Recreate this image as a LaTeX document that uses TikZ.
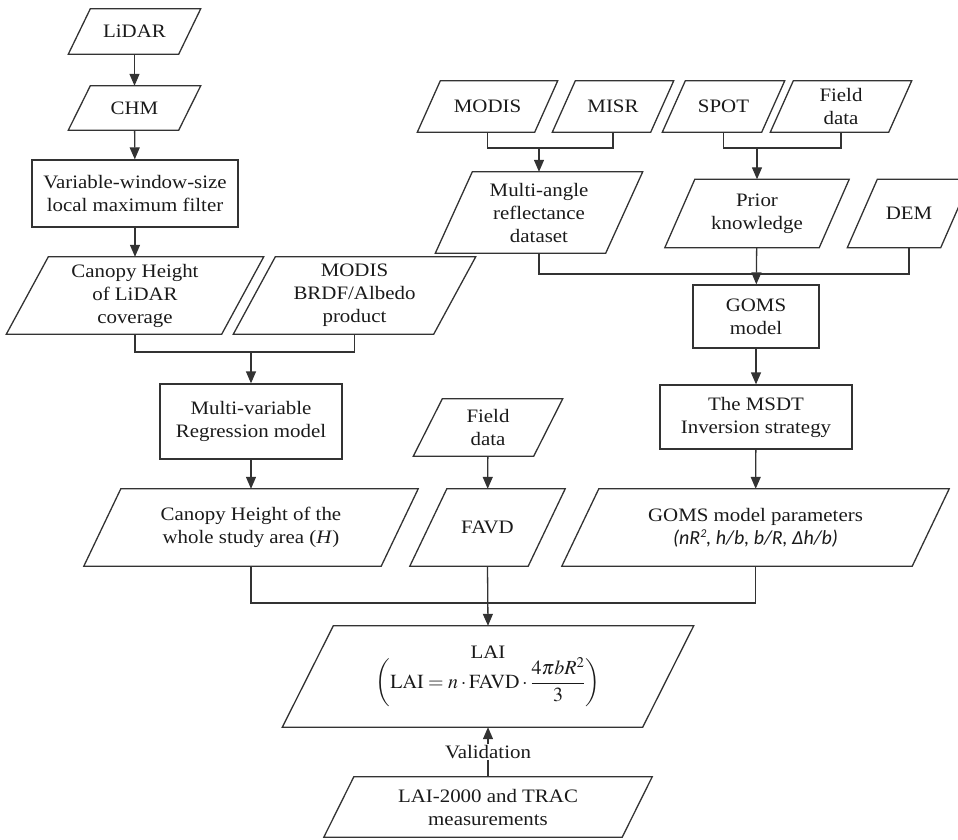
\documentclass[tikz,border=0pt]{standalone}
\usepackage{mathptmx}
\usepackage{fontspec}
\setmainfont{Liberation Serif}[FakeStretch=1.1]
\newfontfamily\calib{Carlito}
\usetikzlibrary{arrows.meta,calc}
\definecolor{ln}{HTML}{333333}
\definecolor{tx}{HTML}{1A1A1A}
\newcommand\pgram[2]{\draw[ln,line width=1.3pt] ([xshift=-#2/2]#1.south west) -- ([xshift=#2/2]#1.north west) -- ([xshift=#2/2]#1.north east) -- ([xshift=-#2/2]#1.south east) -- cycle;}
\begin{document}
\begin{tikzpicture}[x=1pt,y=-1pt,
  every node/.style={text=tx,font=\fontsize{19}{23}\selectfont,align=center,inner sep=0pt},
  io/.style={rectangle},
  procbox/.style={rectangle,draw=ln,line width=1.3pt},
  conn/.style={ln,line width=1.3pt},
  arr/.style={conn,-{Triangle[length=12pt,width=10pt]}}]
\useasboundingbox (0,0) rectangle (958,839);
% left column
\node[io,minimum width=110pt,minimum height=45pt] (lidar) at (134.5,31.5) {LiDAR};
\node[io,minimum width=110pt,minimum height=44pt] (chm) at (134.5,108) {CHM};
\node[procbox,minimum width=206pt,minimum height=67pt] (vw) at (135,193.5) {Variable-window-size\\local maximum filter};
\node[io,minimum width=215pt,minimum height=77pt] (ch1) at (135,295.5) {Canopy Height\\of LiDAR\\coverage};
\node[io,minimum width=200pt,minimum height=77pt] (brdf) at (354.5,295.5) {MODIS\\BRDF/Albedo\\product};
\node[procbox,minimum width=182pt,minimum height=75pt] (reg) at (251,421.5) {Multi-variable\\Regression model};
\node[io,minimum width=297pt,minimum height=77pt] (chw) at (251,527.5) {Canopy Height of the\\whole study area (\textit{H})};
% middle
\node[io,minimum width=120pt,minimum height=57pt] (fd2) at (488,427.5) {Field\\data};
\node[io,minimum width=118pt,minimum height=77pt] (favd) at (487.5,527.5) {FAVD};
% right
\node[io,minimum width=117pt,minimum height=51pt] (modis) at (487.5,106.5) {MODIS};
\node[io,minimum width=98pt,minimum height=51pt] (misr) at (613,106.5) {MISR};
\node[io,minimum width=99pt,minimum height=51pt] (spot) at (723.5,106.5) {SPOT};
\node[io,minimum width=118pt,minimum height=51pt] (fd1) at (841,106.5) {Field\\data};
\node[io,minimum width=170pt,minimum height=81pt] (mar) at (539,212.5) {Multi-angle\\reflectance\\dataset};
\node[io,minimum width=154pt,minimum height=68pt] (prior) at (757,213.5) {Prior\\knowledge};
\node[io,minimum width=93pt,minimum height=68pt] (dem) at (909,213.5) {DEM};
\node[procbox,minimum width=126pt,minimum height=63pt] (goms) at (756,316.5) {GOMS\\model};
\node[procbox,minimum width=192pt,minimum height=64pt] (msdt) at (756,417) {The MSDT\\Inversion strategy};
\node[io,minimum width=350pt,minimum height=77pt] (gp) at (755.5,527.5) {GOMS model parameters\\{\calib\fontsize{20}{23}\selectfont\itshape (nR\raisebox{0.75ex}{\fontsize{12}{12}\selectfont 2}, h/b, b/R, Δh/b)}};
% bottom
\node[io,minimum width=360pt,minimum height=101pt] (lai) at (488,676.5) {LAI\\[-2pt]{\fontsize{20}{23}\selectfont$\displaystyle\left(\mathrm{LAI}=n\cdot\mathrm{FAVD}\cdot\frac{4\pi bR^{2}}{3}\right)$}};
\node[io,minimum width=298pt,minimum height=60pt] (meas) at (488,807) {LAI-2000 and TRAC\\measurements};
% outlines
\pgram{lidar}{22}
\pgram{chm}{22}
\pgram{ch1}{42}
\pgram{brdf}{42}
\pgram{chw}{37}
\pgram{fd2}{29}
\pgram{favd}{37}
\pgram{modis}{23}
\pgram{misr}{23}
\pgram{spot}{23}
\pgram{fd1}{23}
\pgram{mar}{37}
\pgram{prior}{30}
\pgram{dem}{30}
\pgram{gp}{37}
\pgram{lai}{51}
\pgram{meas}{30}
% connectors
\coordinate (j1) at (251,352);
\coordinate (j2) at (539,148);
\coordinate (j3) at (757,148);
\coordinate (j4) at (757,274);
\coordinate (j5) at (488,603);
\draw[arr] (lidar) -- (chm);
\draw[arr] (chm) -- (vw);
\draw[arr] (vw) -- (ch1);
\draw[conn] (ch1.south) |- (j1) -| (brdf.south);
\draw[arr] (j1) -- (reg.north);
\draw[arr] (reg) -- (chw);
\draw[arr] (fd2) -- (favd);
\draw[conn] (modis.south) |- (j2) -| (misr.south);
\draw[arr] (j2) -- (mar.north);
\draw[conn] (spot.south) |- (j3) -| (fd1.south);
\draw[arr] (j3) -- (prior.north);
\draw[conn] (mar.south) |- (j4) -| (dem.south);
\draw[arr] (prior) -- (goms);
\draw[arr] (goms) -- (msdt);
\draw[arr] (msdt) -- (gp);
\draw[conn] (chw.south) |- (j5) -| (gp.south);
\draw[arr] (favd.south) -- (lai.north);
\draw[arr] (meas.north) -- node[fill=white,inner sep=1.5pt] {Validation} (lai.south);
\end{tikzpicture}
\end{document}
